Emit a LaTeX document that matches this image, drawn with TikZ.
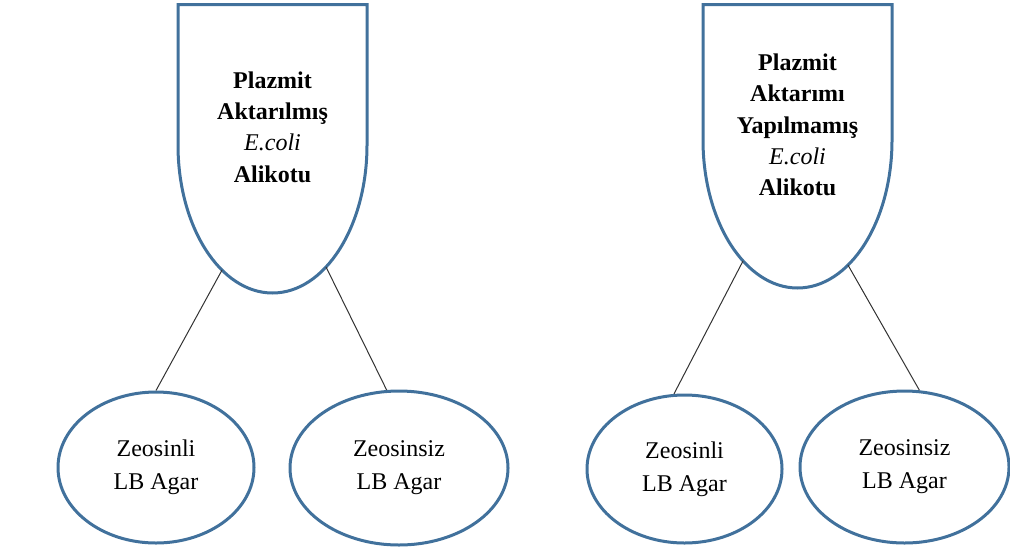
\documentclass[tikz,border=0pt]{standalone}
\usepackage{fontspec}
\setmainfont{Liberation Serif}
\usetikzlibrary{shapes.geometric,calc}
\definecolor{tubeblue}{RGB}{65,113,156}

\begin{document}
\begin{tikzpicture}[x=0.5pt,y=0.5pt,
    tube/.style={draw=tubeblue,line width=1.5pt},
    tubetext/.style={align=center,font=\fontsize{12}{15.7}\selectfont\bfseries},
    agar/.style={ellipse,draw=tubeblue,line width=1.5pt,inner sep=0pt,align=center,
                 font=\fontsize{12}{16.5}\selectfont},
    link/.style={draw=black!80,line width=0.5pt}]
  \useasboundingbox (0,0) rectangle (1010,548);

  % left tube
  \draw[tube] (178,543.5) -- (178,403) arc[start angle=180,end angle=360,x radius=94.5,y radius=148]
    -- (367,543.5) -- cycle;
  \coordinate (lbase) at (272.5,403);
  \coordinate (lt-l) at ($(lbase)+(237.7:94.5 and 148)$);
  \coordinate (lt-r) at ($(lbase)+(304.5:94.5 and 148)$);
  \node[tubetext] (withplasmid) at (272.5,421) {Plazmit\\Aktarılmış\\{\mdseries\itshape E.coli}\\Alikotu};

  % right tube
  \draw[tube] (703,543.5) -- (703,408) arc[start angle=180,end angle=360,x radius=94.5,y radius=148]
    -- (892,543.5) -- cycle;
  \coordinate (rbase) at (797.5,408);
  \coordinate (rt-l) at ($(rbase)+(234.8:94.5 and 148)$);
  \coordinate (rt-r) at ($(rbase)+(302.3:94.5 and 148)$);
  \node[tubetext] (noplasmid) at (797.5,423) {Plazmit\\Aktarımı\\Yapılmamış\\{\mdseries\itshape E.coli}\\Alikotu};

  % agar plates
  \node[agar,minimum width=196pt*0.5,minimum height=151pt*0.5] (zeo1) at (156,80.5) {Zeosinli\\LB Agar};
  \node[agar,minimum width=218pt*0.5,minimum height=154pt*0.5] (plain1) at (399,80) {Zeosinsiz\\LB Agar};
  \node[agar,minimum width=195pt*0.5,minimum height=148pt*0.5] (zeo2) at (684.5,79) {Zeosinli\\LB Agar};
  \node[agar,minimum width=209pt*0.5,minimum height=152pt*0.5] (plain2) at (904.5,81) {Zeosinsiz\\LB Agar};

  \draw[link] (lt-l) -- (zeo1.north);
  \draw[link] (lt-r) -- (plain1.99);
  \draw[link] (rt-l) -- (zeo2.98);
  \draw[link] (rt-r) -- (plain2.79);
\end{tikzpicture}
\end{document}
